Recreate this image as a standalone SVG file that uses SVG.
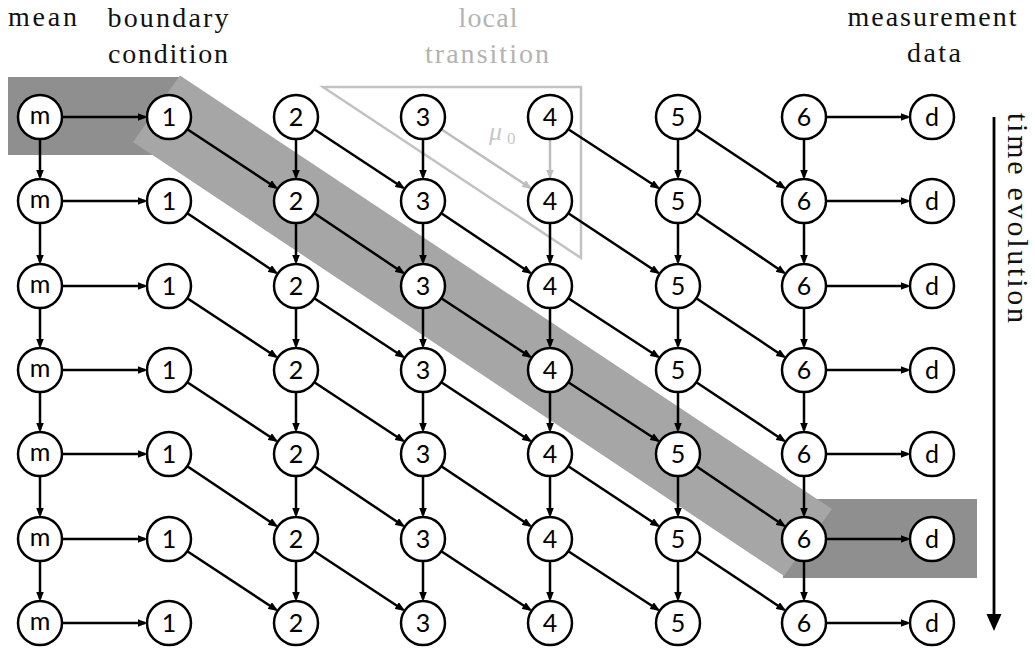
<svg xmlns="http://www.w3.org/2000/svg" width="1035" height="650" viewBox="0 0 1035 650">
  <defs>
    <style>
      .node circle { fill: #ffffff; stroke: #000000; stroke-width: 2.5; }
      .node text { font-size: 25px; text-anchor: middle; fill: #000000; }
      .hdr { font-size: 28px; fill: #111111; text-anchor: middle; }
      .hdr.faint { fill: #b3b3b3; }
      .hdr.left { text-anchor: start; }
      .edge { stroke: #000000; stroke-width: 2.5; fill: none; marker-end: url(#head); }
      .edge.faint { stroke: #bdbdbd; marker-end: url(#headFaint); }
    </style>
    <marker id="head" viewBox="0 0 10 8" refX="7.5" refY="4" markerWidth="10" markerHeight="8" markerUnits="userSpaceOnUse" orient="auto">
      <path d="M0,0 L10,4 L0,8 Z" fill="#000000"/>
    </marker>
    <marker id="headFaint" viewBox="0 0 10 8" refX="7.5" refY="4" markerWidth="10" markerHeight="8" markerUnits="userSpaceOnUse" orient="auto">
      <path d="M0,0 L10,4 L0,8 Z" fill="#bdbdbd"/>
    </marker>
  </defs>

  <!-- highlighted path: start block, diagonal band, end block -->
  <g id="highlight">
    <rect x="8" y="77" width="175" height="78" fill="#8f8f8f"/>
    <rect x="783" y="499" width="194" height="79" fill="#8f8f8f"/>
    <polygon points="180,75.5 832,509 784,576 133,142" fill="#a6a6a6"/>
  </g>

  <!-- local transition outline -->
  <g id="local-transition" font-family="Liberation Serif, serif" fill="#c8c8c8">
    <polygon points="323,87 581,87 581,258" fill="none" stroke="#c2c2c2" stroke-width="2.5"/>
    <text x="489" y="140" font-style="italic" font-size="26">μ</text>
    <text x="507" y="144" font-size="17">0</text>
  </g>

  <!-- column headers -->
  <g id="headers" font-family="Liberation Serif, serif">
    <text class="hdr left" x="8" y="26" textLength="69" lengthAdjust="spacing">mean</text>
    <text class="hdr" x="168" y="27" textLength="121" lengthAdjust="spacing">boundary</text>
    <text class="hdr" x="168" y="63" textLength="120" lengthAdjust="spacing">condition</text>
    <text class="hdr faint" x="488" y="27" textLength="59" lengthAdjust="spacing">local</text>
    <text class="hdr faint" x="487" y="63" textLength="124" lengthAdjust="spacing">transition</text>
    <text class="hdr" x="932" y="26" textLength="169" lengthAdjust="spacing">measurement</text>
    <text class="hdr" x="934" y="62" textLength="54" lengthAdjust="spacing">data</text>
  </g>

  <!-- time axis -->
  <g id="time-axis" font-family="Liberation Serif, serif">
    <line x1="994" y1="117" x2="994" y2="616" stroke="#000000" stroke-width="2.8"/>
    <polygon points="986.5,614 1001.5,614 994,631" fill="#000000"/>
    <text class="hdr left" x="1008" y="113" transform="rotate(90 1008 113)" style="font-size:30px" textLength="210" lengthAdjust="spacing">time evolution</text>
  </g>

  <!-- connectors -->
  <g id="connectors">
    <!-- mean column, downward -->
    <line class="edge" x1="40" y1="139" x2="40" y2="177"/>
    <line class="edge" x1="40" y1="223" x2="40" y2="262"/>
    <line class="edge" x1="40" y1="308" x2="40" y2="346"/>
    <line class="edge" x1="40" y1="392" x2="40" y2="430"/>
    <line class="edge" x1="40" y1="476" x2="40" y2="515"/>
    <line class="edge" x1="40" y1="561" x2="40" y2="599"/>
    <!-- mean to boundary -->
    <line class="edge" x1="62" y1="117" x2="145" y2="117"/>
    <line class="edge" x1="62" y1="201" x2="145" y2="201"/>
    <line class="edge" x1="62" y1="286" x2="145" y2="286"/>
    <line class="edge" x1="62" y1="370" x2="145" y2="370"/>
    <line class="edge" x1="62" y1="454" x2="145" y2="454"/>
    <line class="edge" x1="62" y1="539" x2="145" y2="539"/>
    <line class="edge" x1="62" y1="623" x2="145" y2="623"/>
    <!-- site 6 to data -->
    <line class="edge" x1="826" y1="117" x2="908" y2="117"/>
    <line class="edge" x1="826" y1="201" x2="908" y2="201"/>
    <line class="edge" x1="826" y1="286" x2="908" y2="286"/>
    <line class="edge" x1="826" y1="370" x2="908" y2="370"/>
    <line class="edge" x1="826" y1="454" x2="908" y2="454"/>
    <line class="edge" x1="826" y1="539" x2="908" y2="539"/>
    <line class="edge" x1="826" y1="623" x2="908" y2="623"/>
    <!-- site 2, downward -->
    <line class="edge" x1="296" y1="139" x2="296" y2="177"/>
    <line class="edge" x1="296" y1="223" x2="296" y2="262"/>
    <line class="edge" x1="296" y1="308" x2="296" y2="346"/>
    <line class="edge" x1="296" y1="392" x2="296" y2="430"/>
    <line class="edge" x1="296" y1="476" x2="296" y2="515"/>
    <line class="edge" x1="296" y1="561" x2="296" y2="599"/>
    <!-- site 3, downward -->
    <line class="edge" x1="423" y1="139" x2="423" y2="177"/>
    <line class="edge" x1="423" y1="223" x2="423" y2="262"/>
    <line class="edge" x1="423" y1="308" x2="423" y2="346"/>
    <line class="edge" x1="423" y1="392" x2="423" y2="430"/>
    <line class="edge" x1="423" y1="476" x2="423" y2="515"/>
    <line class="edge" x1="423" y1="561" x2="423" y2="599"/>
    <!-- site 4, downward -->
    <line class="edge faint" x1="550" y1="139" x2="550" y2="177"/>
    <line class="edge" x1="550" y1="223" x2="550" y2="262"/>
    <line class="edge" x1="550" y1="308" x2="550" y2="346"/>
    <line class="edge" x1="550" y1="392" x2="550" y2="430"/>
    <line class="edge" x1="550" y1="476" x2="550" y2="515"/>
    <line class="edge" x1="550" y1="561" x2="550" y2="599"/>
    <!-- site 5, downward -->
    <line class="edge" x1="678" y1="139" x2="678" y2="177"/>
    <line class="edge" x1="678" y1="223" x2="678" y2="262"/>
    <line class="edge" x1="678" y1="308" x2="678" y2="346"/>
    <line class="edge" x1="678" y1="392" x2="678" y2="430"/>
    <line class="edge" x1="678" y1="476" x2="678" y2="515"/>
    <line class="edge" x1="678" y1="561" x2="678" y2="599"/>
    <!-- site 6, downward -->
    <line class="edge" x1="804" y1="139" x2="804" y2="177"/>
    <line class="edge" x1="804" y1="223" x2="804" y2="262"/>
    <line class="edge" x1="804" y1="308" x2="804" y2="346"/>
    <line class="edge" x1="804" y1="392" x2="804" y2="430"/>
    <line class="edge" x1="804" y1="476" x2="804" y2="515"/>
    <line class="edge" x1="804" y1="561" x2="804" y2="599"/>
    <!-- boundary to site 2, diagonal -->
    <line class="edge" x1="187.3" y1="129.2" x2="276" y2="187.7"/>
    <line class="edge" x1="187.3" y1="213.2" x2="276" y2="272.7"/>
    <line class="edge" x1="187.3" y1="298.2" x2="276" y2="356.7"/>
    <line class="edge" x1="187.3" y1="382.2" x2="276" y2="440.7"/>
    <line class="edge" x1="187.3" y1="466.2" x2="276" y2="525.7"/>
    <line class="edge" x1="187.3" y1="551.2" x2="276" y2="609.7"/>
    <!-- site 2 to site 3, diagonal -->
    <line class="edge" x1="314.3" y1="129.2" x2="403" y2="187.7"/>
    <line class="edge" x1="314.3" y1="213.2" x2="403" y2="272.7"/>
    <line class="edge" x1="314.3" y1="298.2" x2="403" y2="356.7"/>
    <line class="edge" x1="314.3" y1="382.2" x2="403" y2="440.7"/>
    <line class="edge" x1="314.3" y1="466.2" x2="403" y2="525.7"/>
    <line class="edge" x1="314.3" y1="551.2" x2="403" y2="609.7"/>
    <!-- site 3 to site 4, diagonal -->
    <line class="edge faint" x1="441.3" y1="129.2" x2="530" y2="187.7"/>
    <line class="edge" x1="441.3" y1="213.2" x2="530" y2="272.7"/>
    <line class="edge" x1="441.3" y1="298.2" x2="530" y2="356.7"/>
    <line class="edge" x1="441.3" y1="382.2" x2="530" y2="440.7"/>
    <line class="edge" x1="441.3" y1="466.2" x2="530" y2="525.7"/>
    <line class="edge" x1="441.3" y1="551.2" x2="530" y2="609.7"/>
    <!-- site 4 to site 5, diagonal -->
    <line class="edge" x1="568.3" y1="129.2" x2="658" y2="187.7"/>
    <line class="edge" x1="568.3" y1="213.2" x2="658" y2="272.7"/>
    <line class="edge" x1="568.3" y1="298.2" x2="658" y2="356.7"/>
    <line class="edge" x1="568.3" y1="382.2" x2="658" y2="440.7"/>
    <line class="edge" x1="568.3" y1="466.2" x2="658" y2="525.7"/>
    <line class="edge" x1="568.3" y1="551.2" x2="658" y2="609.7"/>
    <!-- site 5 to site 6, diagonal -->
    <line class="edge" x1="696.3" y1="129.2" x2="784" y2="187.7"/>
    <line class="edge" x1="696.3" y1="213.2" x2="784" y2="272.7"/>
    <line class="edge" x1="696.3" y1="298.2" x2="784" y2="356.7"/>
    <line class="edge" x1="696.3" y1="382.2" x2="784" y2="440.7"/>
    <line class="edge" x1="696.3" y1="466.2" x2="784" y2="525.7"/>
    <line class="edge" x1="696.3" y1="551.2" x2="784" y2="609.7"/>
  </g>

  <!-- nodes: rows t1..t7, columns m, 1..6, d -->
  <g id="nodes" font-family="Lato, sans-serif">
  <g id="t1-m" class="node"><circle cx="40" cy="117" r="22"/><text x="40" y="124">m</text></g>
  <g id="t1-1" class="node"><circle cx="169" cy="117" r="22"/><text x="169" y="126">1</text></g>
  <g id="t1-2" class="node"><circle cx="296" cy="117" r="22"/><text x="296" y="126">2</text></g>
  <g id="t1-3" class="node"><circle cx="423" cy="117" r="22"/><text x="423" y="126">3</text></g>
  <g id="t1-4" class="node"><circle cx="550" cy="117" r="22"/><text x="550" y="126">4</text></g>
  <g id="t1-5" class="node"><circle cx="678" cy="117" r="22"/><text x="678" y="126">5</text></g>
  <g id="t1-6" class="node"><circle cx="804" cy="117" r="22"/><text x="804" y="126">6</text></g>
  <g id="t1-d" class="node"><circle cx="932" cy="117" r="22"/><text x="932" y="126">d</text></g>

  <g id="t2-m" class="node"><circle cx="40" cy="201" r="22"/><text x="40" y="208">m</text></g>
  <g id="t2-1" class="node"><circle cx="169" cy="201" r="22"/><text x="169" y="210">1</text></g>
  <g id="t2-2" class="node"><circle cx="296" cy="201" r="22"/><text x="296" y="210">2</text></g>
  <g id="t2-3" class="node"><circle cx="423" cy="201" r="22"/><text x="423" y="210">3</text></g>
  <g id="t2-4" class="node"><circle cx="550" cy="201" r="22"/><text x="550" y="210">4</text></g>
  <g id="t2-5" class="node"><circle cx="678" cy="201" r="22"/><text x="678" y="210">5</text></g>
  <g id="t2-6" class="node"><circle cx="804" cy="201" r="22"/><text x="804" y="210">6</text></g>
  <g id="t2-d" class="node"><circle cx="932" cy="201" r="22"/><text x="932" y="210">d</text></g>

  <g id="t3-m" class="node"><circle cx="40" cy="286" r="22"/><text x="40" y="293">m</text></g>
  <g id="t3-1" class="node"><circle cx="169" cy="286" r="22"/><text x="169" y="295">1</text></g>
  <g id="t3-2" class="node"><circle cx="296" cy="286" r="22"/><text x="296" y="295">2</text></g>
  <g id="t3-3" class="node"><circle cx="423" cy="286" r="22"/><text x="423" y="295">3</text></g>
  <g id="t3-4" class="node"><circle cx="550" cy="286" r="22"/><text x="550" y="295">4</text></g>
  <g id="t3-5" class="node"><circle cx="678" cy="286" r="22"/><text x="678" y="295">5</text></g>
  <g id="t3-6" class="node"><circle cx="804" cy="286" r="22"/><text x="804" y="295">6</text></g>
  <g id="t3-d" class="node"><circle cx="932" cy="286" r="22"/><text x="932" y="295">d</text></g>

  <g id="t4-m" class="node"><circle cx="40" cy="370" r="22"/><text x="40" y="377">m</text></g>
  <g id="t4-1" class="node"><circle cx="169" cy="370" r="22"/><text x="169" y="379">1</text></g>
  <g id="t4-2" class="node"><circle cx="296" cy="370" r="22"/><text x="296" y="379">2</text></g>
  <g id="t4-3" class="node"><circle cx="423" cy="370" r="22"/><text x="423" y="379">3</text></g>
  <g id="t4-4" class="node"><circle cx="550" cy="370" r="22"/><text x="550" y="379">4</text></g>
  <g id="t4-5" class="node"><circle cx="678" cy="370" r="22"/><text x="678" y="379">5</text></g>
  <g id="t4-6" class="node"><circle cx="804" cy="370" r="22"/><text x="804" y="379">6</text></g>
  <g id="t4-d" class="node"><circle cx="932" cy="370" r="22"/><text x="932" y="379">d</text></g>

  <g id="t5-m" class="node"><circle cx="40" cy="454" r="22"/><text x="40" y="461">m</text></g>
  <g id="t5-1" class="node"><circle cx="169" cy="454" r="22"/><text x="169" y="463">1</text></g>
  <g id="t5-2" class="node"><circle cx="296" cy="454" r="22"/><text x="296" y="463">2</text></g>
  <g id="t5-3" class="node"><circle cx="423" cy="454" r="22"/><text x="423" y="463">3</text></g>
  <g id="t5-4" class="node"><circle cx="550" cy="454" r="22"/><text x="550" y="463">4</text></g>
  <g id="t5-5" class="node"><circle cx="678" cy="454" r="22"/><text x="678" y="463">5</text></g>
  <g id="t5-6" class="node"><circle cx="804" cy="454" r="22"/><text x="804" y="463">6</text></g>
  <g id="t5-d" class="node"><circle cx="932" cy="454" r="22"/><text x="932" y="463">d</text></g>

  <g id="t6-m" class="node"><circle cx="40" cy="539" r="22"/><text x="40" y="546">m</text></g>
  <g id="t6-1" class="node"><circle cx="169" cy="539" r="22"/><text x="169" y="548">1</text></g>
  <g id="t6-2" class="node"><circle cx="296" cy="539" r="22"/><text x="296" y="548">2</text></g>
  <g id="t6-3" class="node"><circle cx="423" cy="539" r="22"/><text x="423" y="548">3</text></g>
  <g id="t6-4" class="node"><circle cx="550" cy="539" r="22"/><text x="550" y="548">4</text></g>
  <g id="t6-5" class="node"><circle cx="678" cy="539" r="22"/><text x="678" y="548">5</text></g>
  <g id="t6-6" class="node"><circle cx="804" cy="539" r="22"/><text x="804" y="548">6</text></g>
  <g id="t6-d" class="node"><circle cx="932" cy="539" r="22"/><text x="932" y="548">d</text></g>

  <g id="t7-m" class="node"><circle cx="40" cy="623" r="22"/><text x="40" y="630">m</text></g>
  <g id="t7-1" class="node"><circle cx="169" cy="623" r="22"/><text x="169" y="632">1</text></g>
  <g id="t7-2" class="node"><circle cx="296" cy="623" r="22"/><text x="296" y="632">2</text></g>
  <g id="t7-3" class="node"><circle cx="423" cy="623" r="22"/><text x="423" y="632">3</text></g>
  <g id="t7-4" class="node"><circle cx="550" cy="623" r="22"/><text x="550" y="632">4</text></g>
  <g id="t7-5" class="node"><circle cx="678" cy="623" r="22"/><text x="678" y="632">5</text></g>
  <g id="t7-6" class="node"><circle cx="804" cy="623" r="22"/><text x="804" y="632">6</text></g>
  <g id="t7-d" class="node"><circle cx="932" cy="623" r="22"/><text x="932" y="632">d</text></g>
  </g>
</svg>
